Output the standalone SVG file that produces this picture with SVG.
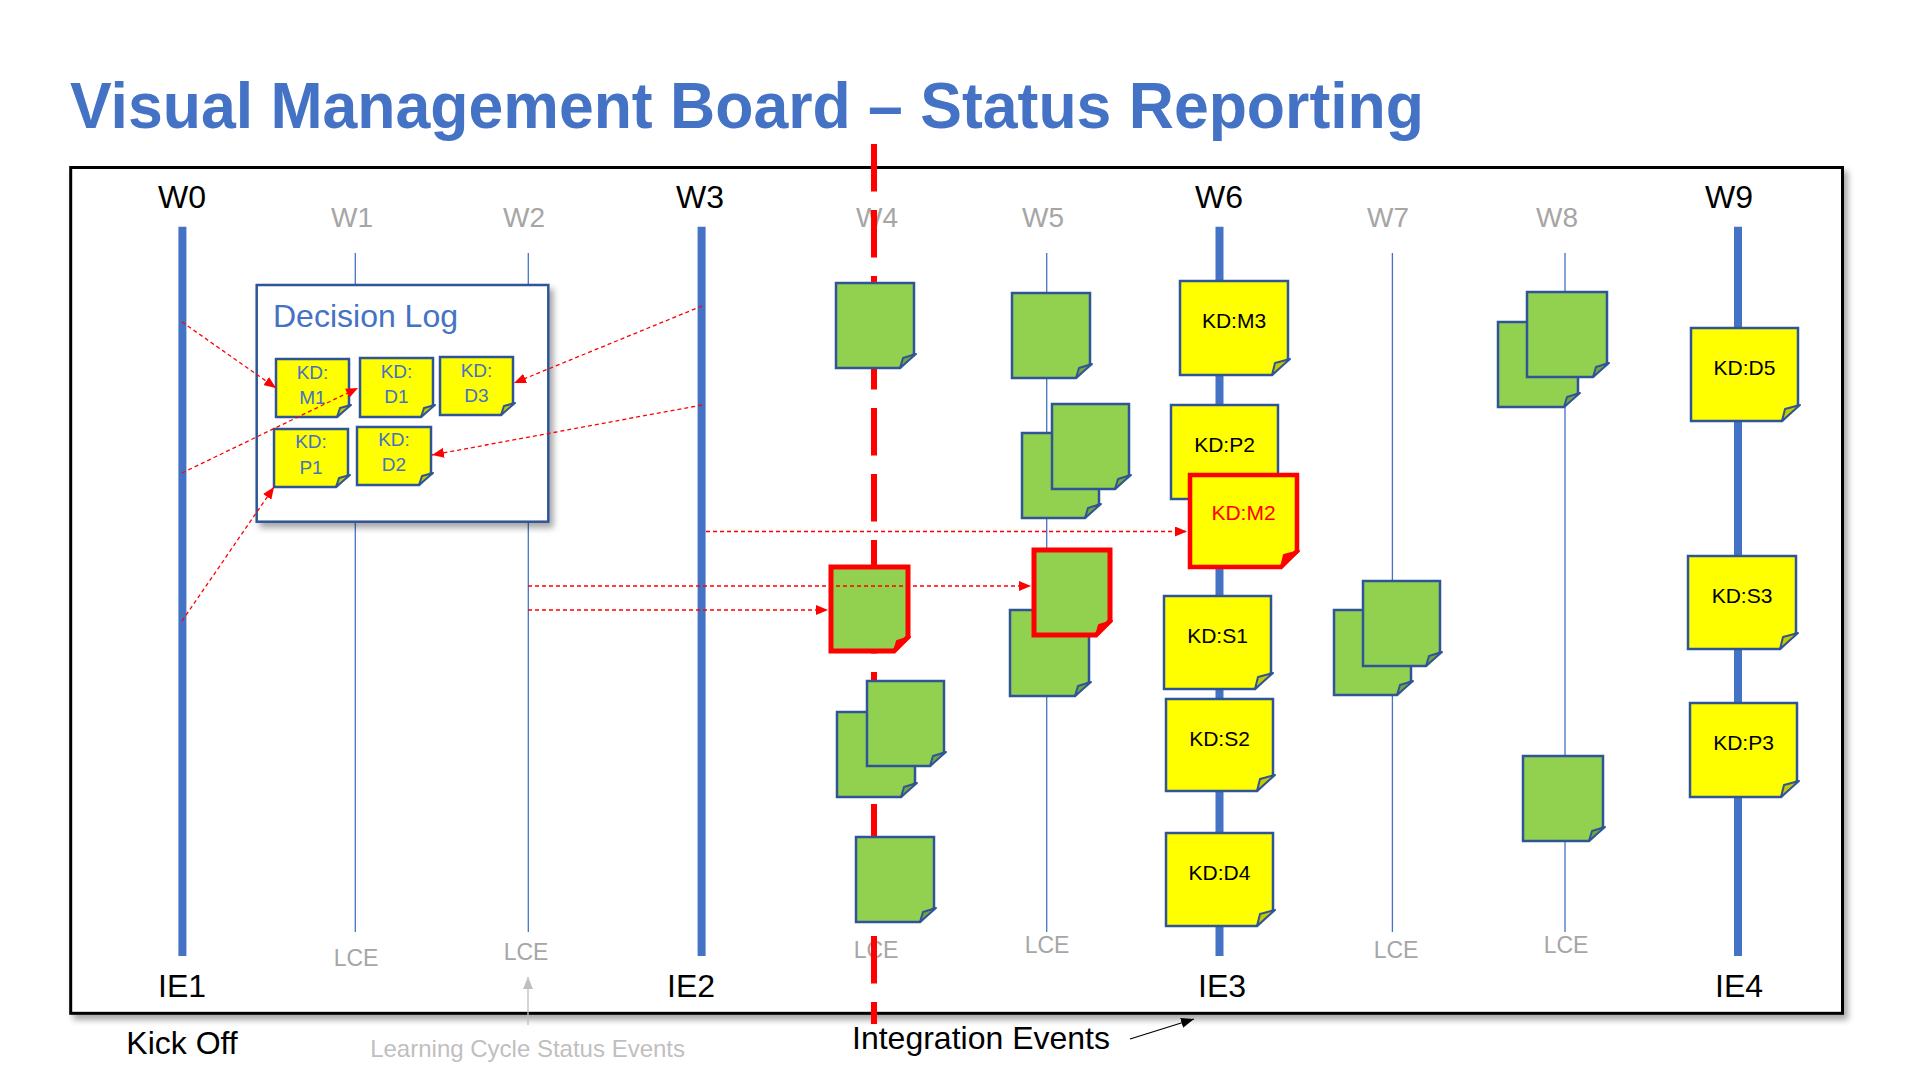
<svg xmlns="http://www.w3.org/2000/svg" width="1920" height="1080" viewBox="0 0 1920 1080">
<defs>
<style>
text{font-family:"Liberation Sans",Arial,sans-serif}
.title{font-size:64px;font-weight:bold;fill:#4472C4}
.wb{font-size:32px;fill:#000;text-anchor:middle}
.wg{font-size:28px;fill:#A6A6A6;text-anchor:middle}
.lce{font-size:23px;fill:#A6A6A6;text-anchor:middle}
.ie{font-size:32px;fill:#000;text-anchor:middle}
.thick{stroke:#4472C4;stroke-width:8;fill:none}
.thin{stroke:#4472C4;stroke-width:1.3;fill:none}
.g{fill:#92D050;stroke:#2F5597;stroke-width:2.5;stroke-linejoin:miter}
.y{fill:#FFFF00;stroke:#2F5597;stroke-width:2.5;stroke-linejoin:miter}
.gf{fill:#74A640;stroke:#2F5597;stroke-width:2;stroke-linejoin:round}
.yf{fill:#C8C800;stroke:#2F5597;stroke-width:2;stroke-linejoin:round}
.rg{fill:#92D050;stroke:#FF0000;stroke-width:5}
.ry{fill:#FFFF00;stroke:#FF0000;stroke-width:4.5}
.rf{fill:#FF0000;stroke:#FF0000;stroke-width:2;stroke-linejoin:round}
.kd{font-size:21px;fill:#000;text-anchor:middle}
.kds{font-size:19px;fill:#4472C4;text-anchor:middle}
.conn{stroke:#FF0000;stroke-width:1.3;stroke-dasharray:4 3;fill:none;marker-end:url(#ra)}
</style>
<marker id="ra" markerUnits="userSpaceOnUse" markerWidth="12" markerHeight="10" refX="12" refY="5" orient="auto">
<path d="M0 0 L12 5 L0 10 Z" fill="#FF0000"/>
</marker>
<marker id="ba" markerUnits="userSpaceOnUse" markerWidth="13" markerHeight="10" refX="13" refY="5" orient="auto">
<path d="M0 0 L13 5 L0 10 Z" fill="#000"/>
</marker>
<marker id="ga" markerUnits="userSpaceOnUse" markerWidth="12" markerHeight="10" refX="12" refY="5" orient="auto">
<path d="M0 0 L12 5 L0 10 Z" fill="#BFBFBF"/>
</marker>
<filter id="sh" x="-5%" y="-5%" width="115%" height="115%">
<feDropShadow dx="4" dy="5" stdDeviation="3" flood-color="#000" flood-opacity="0.35"/>
</filter>
</defs>

<rect width="1920" height="1080" fill="#FFFFFF"/>

<text id="title" class="title" x="70" y="128" textLength="1354" lengthAdjust="spacingAndGlyphs">Visual Management Board – Status Reporting</text>

<g id="board">
<rect x="70.7" y="167.5" width="1771.8" height="845.8" fill="#FFFFFF" stroke="#000" stroke-width="3" filter="url(#sh)"/>
</g>

<g id="week-labels">
<text class="wb" x="182" y="208">W0</text>
<text class="wg" x="352" y="227">W1</text>
<text class="wg" x="524" y="227">W2</text>
<text class="wb" x="700" y="208">W3</text>
<text class="wg" x="877" y="227">W4</text>
<text class="wg" x="1043" y="227">W5</text>
<text class="wb" x="1219" y="208">W6</text>
<text class="wg" x="1388" y="227">W7</text>
<text class="wg" x="1557" y="227">W8</text>
<text class="wb" x="1729" y="208">W9</text>
</g>

<g id="lce-labels">
<text class="lce" x="356" y="966">LCE</text>
<text class="lce" x="526" y="960">LCE</text>
<text class="lce" x="876" y="958">LCE</text>
<text class="lce" x="1047" y="953">LCE</text>
<text class="lce" x="1396" y="958">LCE</text>
<text class="lce" x="1566" y="953">LCE</text>
</g>

<g id="ie-labels">
<text class="ie" x="182" y="997">IE1</text>
<text class="ie" x="691" y="997">IE2</text>
<text class="ie" x="1222" y="997">IE3</text>
<text class="ie" x="1739" y="997">IE4</text>
</g>

<g id="timelines">
<line class="thin" x1="355.3" y1="253" x2="355.3" y2="932"/>
<line class="thin" x1="528.3" y1="253" x2="528.3" y2="932"/>
<line class="thin" x1="1046.7" y1="253" x2="1046.7" y2="932"/>
<line class="thin" x1="1392.4" y1="253" x2="1392.4" y2="932"/>
<line class="thin" x1="1565" y1="253" x2="1565" y2="932"/>
<line class="thick" x1="182.4" y1="226.7" x2="182.4" y2="956"/>
<line class="thick" x1="701.6" y1="226.7" x2="701.6" y2="956"/>
<line class="thick" x1="1219.5" y1="226.7" x2="1219.5" y2="956"/>
<line class="thick" x1="1738" y1="226.7" x2="1738" y2="956"/>
</g>

<g id="decision-log">
<rect x="256.7" y="285" width="291.6" height="236.7" fill="#FFFFFF" stroke="#2F5597" stroke-width="2.5" filter="url(#sh)"/>
<text x="273" y="327" style="font-size:32px;fill:#4472C4">Decision Log</text>
</g>

<g id="status-line">
<line x1="874" y1="144" x2="874" y2="1024" stroke="#FF0000" stroke-width="6" stroke-dasharray="47.5 18.5"/>
</g>

<g id="log-kd-m1"><path class="y" d="M276 359 H349 V405 L337 417 H276 Z"/><path class="yf" d="M337 417 L340 408 L351 405 Z"/><text class="kds" x="312.5" y="378.5">KD:</text><text class="kds" x="312.5" y="404">M1</text></g>
<g id="log-kd-d1"><path class="y" d="M360 358 H433 V405 L421 417 H360 Z"/><path class="yf" d="M421 417 L424 408 L435 405 Z"/><text class="kds" x="396.5" y="377.5">KD:</text><text class="kds" x="396.5" y="403">D1</text></g>
<g id="log-kd-d3"><path class="y" d="M440 357 H513 V403 L501 415 H440 Z"/><path class="yf" d="M501 415 L504 406 L515 403 Z"/><text class="kds" x="476.5" y="376.5">KD:</text><text class="kds" x="476.5" y="402">D3</text></g>
<g id="log-kd-p1"><path class="y" d="M274 429 H348 V475 L336 487 H274 Z"/><path class="yf" d="M336 487 L339 478 L350 475 Z"/><text class="kds" x="311" y="447.5">KD:</text><text class="kds" x="311" y="473.5">P1</text></g>
<g id="log-kd-d2"><path class="y" d="M357 427 H431 V473 L419 485 H357 Z"/><path class="yf" d="M419 485 L422 476 L433 473 Z"/><text class="kds" x="394" y="445.5">KD:</text><text class="kds" x="394" y="471">D2</text></g>

<g id="w4-note1"><path class="g" d="M836 283 H914 V354 L900 368 H836 Z"/><path class="gf" d="M900 368 L903 358 L916 354 Z"/></g>
<g id="w4-note-red"><path class="rg" d="M831 567 H908 V637 L894 651 H831 Z"/><path class="rf" d="M894 651 L897 641 L910 637 Z"/></g>
<g id="w4-note-back"><path class="g" d="M837 712 H915 V783 L901 797 H837 Z"/><path class="gf" d="M901 797 L904 787 L917 783 Z"/></g>
<g id="w4-note-front"><path class="g" d="M867 681 H944 V752 L930 766 H867 Z"/><path class="gf" d="M930 766 L933 756 L946 752 Z"/></g>
<g id="w4-note-bottom"><path class="g" d="M856 837 H934 V908 L920 922 H856 Z"/><path class="gf" d="M920 922 L923 912 L936 908 Z"/></g>

<g id="w5-note1"><path class="g" d="M1012 293 H1090 V364 L1076 378 H1012 Z"/><path class="gf" d="M1076 378 L1079 368 L1092 364 Z"/></g>
<g id="w5-note-back"><path class="g" d="M1022 433 H1099 V504 L1085 518 H1022 Z"/><path class="gf" d="M1085 518 L1088 508 L1101 504 Z"/></g>
<g id="w5-note-front"><path class="g" d="M1052 404 H1129 V475 L1115 489 H1052 Z"/><path class="gf" d="M1115 489 L1118 479 L1131 475 Z"/></g>
<g id="w5-note-under-red"><path class="g" d="M1010 610 H1089 V682 L1075 696 H1010 Z"/><path class="gf" d="M1075 696 L1078 686 L1091 682 Z"/></g>
<g id="w5-note-red"><path class="rg" d="M1034 550 H1110 V621 L1096 635 H1034 Z"/><path class="rf" d="M1096 635 L1099 625 L1112 621 Z"/></g>

<g id="kd-m3"><path class="y" d="M1180 281 H1288 V359 L1272 375 H1180 Z"/><path class="yf" d="M1272 375 L1275 363 L1290 359 Z"/><text class="kd" x="1234" y="328">KD:M3</text></g>
<g id="kd-p2"><path class="y" d="M1171 405 H1278 V483 L1262 499 H1171 Z"/><path class="yf" d="M1262 499 L1265 487 L1280 483 Z"/><text class="kd" x="1224.5" y="452">KD:P2</text></g>
<g id="kd-m2"><path class="ry" d="M1190 475 H1297 V551 L1281 567 H1190 Z"/><path class="rf" d="M1281 567 L1284 555 L1299 551 Z"/><text class="kd" x="1243.5" y="520" style="fill:#FF0000">KD:M2</text></g>
<g id="kd-s1"><path class="y" d="M1164 596 H1271 V673 L1255 689 H1164 Z"/><path class="yf" d="M1255 689 L1258 677 L1273 673 Z"/><text class="kd" x="1217.5" y="643">KD:S1</text></g>
<g id="kd-s2"><path class="y" d="M1166 699 H1273 V775 L1257 791 H1166 Z"/><path class="yf" d="M1257 791 L1260 779 L1275 775 Z"/><text class="kd" x="1219.5" y="745.5">KD:S2</text></g>
<g id="kd-d4"><path class="y" d="M1166 833 H1273 V910 L1257 926 H1166 Z"/><path class="yf" d="M1257 926 L1260 914 L1275 910 Z"/><text class="kd" x="1219.5" y="880">KD:D4</text></g>

<g id="w7-note-back"><path class="g" d="M1334 610 H1411 V681 L1397 695 H1334 Z"/><path class="gf" d="M1397 695 L1400 685 L1413 681 Z"/></g>
<g id="w7-note-front"><path class="g" d="M1363 581 H1440 V652 L1426 666 H1363 Z"/><path class="gf" d="M1426 666 L1429 656 L1442 652 Z"/></g>

<g id="w8-note-back"><path class="g" d="M1498 322 H1578 V393 L1564 407 H1498 Z"/><path class="gf" d="M1564 407 L1567 397 L1580 393 Z"/></g>
<g id="w8-note-front"><path class="g" d="M1527 292 H1607 V363 L1593 377 H1527 Z"/><path class="gf" d="M1593 377 L1596 367 L1609 363 Z"/></g>
<g id="w8-note-low"><path class="g" d="M1523 756 H1603 V827 L1589 841 H1523 Z"/><path class="gf" d="M1589 841 L1592 831 L1605 827 Z"/></g>

<g id="kd-d5"><path class="y" d="M1691 328 H1798 V405 L1782 421 H1691 Z"/><path class="yf" d="M1782 421 L1785 409 L1800 405 Z"/><text class="kd" x="1744.5" y="375">KD:D5</text></g>
<g id="kd-s3"><path class="y" d="M1688 556 H1796 V633 L1780 649 H1688 Z"/><path class="yf" d="M1780 649 L1783 637 L1798 633 Z"/><text class="kd" x="1742" y="602.5">KD:S3</text></g>
<g id="kd-p3"><path class="y" d="M1690 703 H1797 V781 L1781 797 H1690 Z"/><path class="yf" d="M1781 797 L1784 785 L1799 781 Z"/><text class="kd" x="1743.5" y="750">KD:P3</text></g>

<g id="connectors">
<line class="conn" x1="182" y1="322" x2="276" y2="388"/>
<line class="conn" x1="182" y1="473" x2="358" y2="388"/>
<line class="conn" x1="182" y1="621" x2="274" y2="487"/>
<line class="conn" x1="702" y1="306" x2="514" y2="383"/>
<line class="conn" x1="702" y1="405" x2="432" y2="455"/>
<line class="conn" x1="706" y1="531.5" x2="1187" y2="531.5"/>
<line class="conn" x1="528" y1="586" x2="1031" y2="586"/>
<line class="conn" x1="528" y1="610" x2="828" y2="610"/>
<line x1="528" y1="1025" x2="528" y2="977" stroke="#BFBFBF" stroke-width="1.3" marker-end="url(#ga)"/>
<line x1="1130" y1="1039" x2="1194" y2="1019" stroke="#000" stroke-width="1.3" marker-end="url(#ba)"/>
</g>

<g id="footer-labels">
<text x="182" y="1054" style="font-size:32px;fill:#000;text-anchor:middle">Kick Off</text>
<text x="527.6" y="1057" style="font-size:24px;fill:#BFBFBF;text-anchor:middle">Learning Cycle Status Events</text>
<text x="981" y="1049" style="font-size:32px;fill:#000;text-anchor:middle">Integration Events</text>
</g>
</svg>
